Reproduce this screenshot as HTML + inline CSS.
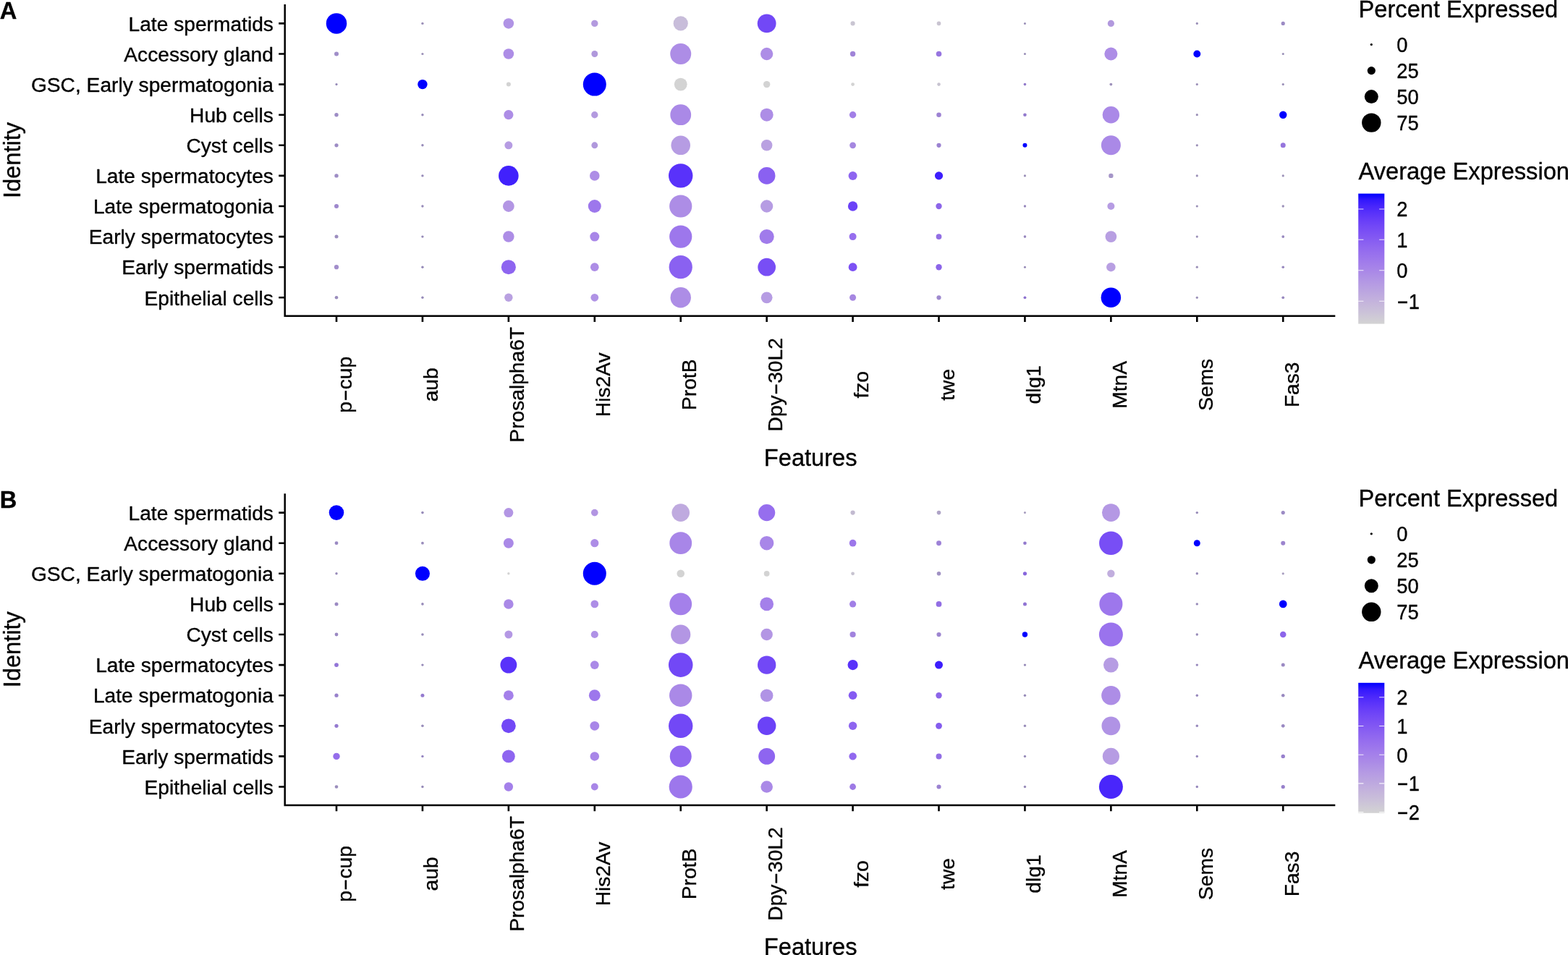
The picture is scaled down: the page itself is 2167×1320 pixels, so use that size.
<!DOCTYPE html>
<html lang="en">
<head>
<meta charset="utf-8">
<title>Dot plot – marker gene expression by cell identity</title>
<style>
html,body{margin:0;padding:0;background:#fff;}
body{width:2167px;height:1320px;overflow:hidden;}
svg{display:block;}
text{font-family:"Liberation Sans", sans-serif;fill:#000;stroke:#000;stroke-width:0.35px;stroke-linejoin:round;}
.t12{font-size:28.0px;}
.t14{font-size:32.67px;}
.tag{font-size:32.67px;font-weight:bold;}
.ax{fill:none;stroke:#000;stroke-width:2.5;stroke-linecap:butt;stroke-linejoin:miter;}
.tk{fill:none;stroke:#000;stroke-width:2.6;}
.cbt{fill:none;stroke:#fff;stroke-width:1.1;stroke-opacity:0.85;}
</style>
</head>
<body>
<svg width="2167" height="1320" viewBox="0 0 2167 1320">
<defs><linearGradient id="cb" x1="0" y1="0" x2="0" y2="1"><stop offset="0" stop-color="#0000ff"/><stop offset="0.05" stop-color="#3318fd"/><stop offset="0.1" stop-color="#4926fb"/><stop offset="0.15" stop-color="#5932fa"/><stop offset="0.2" stop-color="#673df8"/><stop offset="0.25" stop-color="#7248f6"/><stop offset="0.3" stop-color="#7c51f4"/><stop offset="0.35" stop-color="#855bf2"/><stop offset="0.4" stop-color="#8e65f0"/><stop offset="0.45" stop-color="#966eee"/><stop offset="0.5" stop-color="#9d77ec"/><stop offset="0.55" stop-color="#a480ea"/><stop offset="0.6" stop-color="#aa89e7"/><stop offset="0.65" stop-color="#b093e5"/><stop offset="0.7" stop-color="#b69ce3"/><stop offset="0.75" stop-color="#bba5e0"/><stop offset="0.8" stop-color="#c1aede"/><stop offset="0.85" stop-color="#c6b7db"/><stop offset="0.9" stop-color="#cac0d9"/><stop offset="0.95" stop-color="#cfcad6"/><stop offset="1" stop-color="#d3d3d3"/></linearGradient></defs>
<rect width="2167" height="1320" fill="#fff"/>
<g id="panelA" transform="translate(0,0)">
<text class="tag" transform="translate(-0.2,25.8) scale(0.999,1.02)">A</text>
<path class="ax" d="M393.7,6 V436.7 H1845.3"/>
<path class="tk" d="M385.2,32.4H393.7 M385.2,74.5H393.7 M385.2,116.6H393.7 M385.2,158.7H393.7 M385.2,200.8H393.7 M385.2,242.9H393.7 M385.2,285H393.7 M385.2,327.1H393.7 M385.2,369.2H393.7 M385.2,411.3H393.7 M465,436.7V445 M583.93,436.7V445 M702.86,436.7V445 M821.79,436.7V445 M940.72,436.7V445 M1059.65,436.7V445 M1178.58,436.7V445 M1297.51,436.7V445 M1416.44,436.7V445 M1535.37,436.7V445 M1654.3,436.7V445 M1773.23,436.7V445"/>
<g class="ylab">
<text class="t12" text-anchor="end" transform="translate(377.9,42.6) scale(1.006,1.0)">Late spermatids</text>
<text class="t12" text-anchor="end" transform="translate(377.9,84.7) scale(1.006,1.0)">Accessory gland</text>
<text class="t12" text-anchor="end" transform="translate(377.9,126.8) scale(1.006,1.0)">GSC, Early spermatogonia</text>
<text class="t12" text-anchor="end" transform="translate(377.9,168.9) scale(1.006,1.0)">Hub cells</text>
<text class="t12" text-anchor="end" transform="translate(377.9,211) scale(1.006,1.0)">Cyst cells</text>
<text class="t12" text-anchor="end" transform="translate(377.9,253.1) scale(1.006,1.0)">Late spermatocytes</text>
<text class="t12" text-anchor="end" transform="translate(377.9,295.2) scale(1.006,1.0)">Late spermatogonia</text>
<text class="t12" text-anchor="end" transform="translate(377.9,337.3) scale(1.006,1.0)">Early spermatocytes</text>
<text class="t12" text-anchor="end" transform="translate(377.9,379.4) scale(1.006,1.0)">Early spermatids</text>
<text class="t12" text-anchor="end" transform="translate(377.9,421.5) scale(1.006,1.0)">Epithelial cells</text>
</g>
<g class="xlab">
<text class="t12" text-anchor="middle" transform="translate(486.3,531.8) rotate(-90) scale(1.006,1.0)">p<tspan textLength="16.5" lengthAdjust="spacingAndGlyphs" dy="-1">-</tspan><tspan dy="1">cup</tspan></text>
<text class="t12" text-anchor="middle" transform="translate(605.23,531.8) rotate(-90) scale(1.006,1.0)">aub</text>
<text class="t12" text-anchor="middle" transform="translate(724.16,531.8) rotate(-90) scale(1.006,1.0)">Prosalpha6T</text>
<text class="t12" text-anchor="middle" transform="translate(843.09,531.8) rotate(-90) scale(1.006,1.0)">His2Av</text>
<text class="t12" text-anchor="middle" transform="translate(962.02,531.8) rotate(-90) scale(1.006,1.0)">ProtB</text>
<text class="t12" text-anchor="middle" transform="translate(1080.95,531.8) rotate(-90) scale(1.006,1.0)">Dpy<tspan textLength="16.5" lengthAdjust="spacingAndGlyphs" dy="-1">-</tspan><tspan dy="1">30L2</tspan></text>
<text class="t12" text-anchor="middle" transform="translate(1199.88,531.8) rotate(-90) scale(1.006,1.0)">fzo</text>
<text class="t12" text-anchor="middle" transform="translate(1318.81,531.8) rotate(-90) scale(1.006,1.0)">twe</text>
<text class="t12" text-anchor="middle" transform="translate(1437.74,531.8) rotate(-90) scale(1.006,1.0)">dlg1</text>
<text class="t12" text-anchor="middle" transform="translate(1556.67,531.8) rotate(-90) scale(1.006,1.0)">MtnA</text>
<text class="t12" text-anchor="middle" transform="translate(1675.6,531.8) rotate(-90) scale(1.006,1.0)">Sems</text>
<text class="t12" text-anchor="middle" transform="translate(1794.53,531.8) rotate(-90) scale(1.006,1.0)">Fas3</text>
</g>
<text class="t14" text-anchor="middle" transform="translate(1120.2,643.7) scale(0.999,1.02)">Features</text>
<text class="t14" text-anchor="middle" transform="translate(28.4,221.5) rotate(-90) scale(0.999,1.02)">Identity</text>
<g class="dots">
<circle cx="465" cy="32.4" r="14.25" fill="#0000ff"/>
<circle cx="465" cy="74.5" r="3" fill="#a08ec9"/>
<circle cx="465" cy="116.6" r="1.6" fill="#9589b7"/>
<circle cx="465" cy="158.7" r="2.7" fill="#9d8cc5"/>
<circle cx="465" cy="200.8" r="2.6" fill="#9c8bc4"/>
<circle cx="465" cy="242.9" r="2.7" fill="#9d8cc5"/>
<circle cx="465" cy="285" r="3" fill="#9e88cd"/>
<circle cx="465" cy="327.1" r="2.5" fill="#9c8ebf"/>
<circle cx="465" cy="369.2" r="3.1" fill="#a28ecb"/>
<circle cx="465" cy="411.3" r="2.3" fill="#9a8dbc"/>
<circle cx="583.93" cy="32.4" r="1.7" fill="#9b90b8"/>
<circle cx="583.93" cy="74.5" r="1.6" fill="#9a8fb7"/>
<circle cx="583.93" cy="116.6" r="6.7" fill="#0000ff"/>
<circle cx="583.93" cy="158.7" r="1.7" fill="#968ab8"/>
<circle cx="583.93" cy="200.8" r="1.7" fill="#968ab8"/>
<circle cx="583.93" cy="242.9" r="1.7" fill="#968ab8"/>
<circle cx="583.93" cy="285" r="1.7" fill="#968ab8"/>
<circle cx="583.93" cy="327.1" r="1.7" fill="#968ab8"/>
<circle cx="583.93" cy="369.2" r="1.7" fill="#968ab8"/>
<circle cx="583.93" cy="411.3" r="1.7" fill="#968ab8"/>
<circle cx="702.86" cy="32.4" r="7.25" fill="#b093e5"/>
<circle cx="702.86" cy="74.5" r="7.3" fill="#ad8de6"/>
<circle cx="702.86" cy="116.6" r="3" fill="#d3d3d3"/>
<circle cx="702.86" cy="158.7" r="6.6" fill="#ad8de6"/>
<circle cx="702.86" cy="200.8" r="5.5" fill="#b69ce3"/>
<circle cx="702.86" cy="242.9" r="13.8" fill="#4121fc"/>
<circle cx="702.86" cy="285" r="7.9" fill="#b396e4"/>
<circle cx="702.86" cy="327.1" r="7.75" fill="#ad8de6"/>
<circle cx="702.86" cy="369.2" r="10.05" fill="#8e65f0"/>
<circle cx="702.86" cy="411.3" r="5.7" fill="#b9a1e1"/>
<circle cx="821.79" cy="32.4" r="4.7" fill="#b39adf"/>
<circle cx="821.79" cy="74.5" r="4.45" fill="#b098dc"/>
<circle cx="821.79" cy="116.6" r="16" fill="#0000ff"/>
<circle cx="821.79" cy="158.7" r="4.7" fill="#b39adf"/>
<circle cx="821.79" cy="200.8" r="4.45" fill="#b098dc"/>
<circle cx="821.79" cy="242.9" r="6.8" fill="#ad8de6"/>
<circle cx="821.79" cy="285" r="9" fill="#9d77ec"/>
<circle cx="821.79" cy="327.1" r="6.5" fill="#a886e8"/>
<circle cx="821.79" cy="369.2" r="5.85" fill="#ad8de6"/>
<circle cx="821.79" cy="411.3" r="5.4" fill="#b093e5"/>
<circle cx="940.72" cy="32.4" r="10.1" fill="#c8bdda"/>
<circle cx="940.72" cy="74.5" r="14.5" fill="#ad8de6"/>
<circle cx="940.72" cy="116.6" r="8.9" fill="#d3d3d3"/>
<circle cx="940.72" cy="158.7" r="14.4" fill="#aa89e7"/>
<circle cx="940.72" cy="200.8" r="13.3" fill="#b69ce3"/>
<circle cx="940.72" cy="242.9" r="16.7" fill="#5932fa"/>
<circle cx="940.72" cy="285" r="15.6" fill="#ad8de6"/>
<circle cx="940.72" cy="327.1" r="15.6" fill="#9d77ec"/>
<circle cx="940.72" cy="369.2" r="16.1" fill="#8a61f1"/>
<circle cx="940.72" cy="411.3" r="14.2" fill="#ad8de6"/>
<circle cx="1059.65" cy="32.4" r="12.9" fill="#7248f6"/>
<circle cx="1059.65" cy="74.5" r="8.65" fill="#ad8de6"/>
<circle cx="1059.65" cy="116.6" r="4.7" fill="#d3d3d3"/>
<circle cx="1059.65" cy="158.7" r="9.05" fill="#ad8de6"/>
<circle cx="1059.65" cy="200.8" r="7.8" fill="#b9a1e1"/>
<circle cx="1059.65" cy="242.9" r="11.8" fill="#8a61f1"/>
<circle cx="1059.65" cy="285" r="8.65" fill="#b69ce3"/>
<circle cx="1059.65" cy="327.1" r="10.1" fill="#a07beb"/>
<circle cx="1059.65" cy="369.2" r="12.35" fill="#784ef5"/>
<circle cx="1059.65" cy="411.3" r="7.9" fill="#b69ce3"/>
<circle cx="1178.58" cy="32.4" r="3.05" fill="#c9c5d2"/>
<circle cx="1178.58" cy="74.5" r="3.7" fill="#a084d8"/>
<circle cx="1178.58" cy="116.6" r="2.4" fill="#d3d3d3"/>
<circle cx="1178.58" cy="158.7" r="4.7" fill="#a27fe7"/>
<circle cx="1178.58" cy="200.8" r="4.4" fill="#a587e0"/>
<circle cx="1178.58" cy="242.9" r="6" fill="#8e65f0"/>
<circle cx="1178.58" cy="285" r="6.7" fill="#6b42f7"/>
<circle cx="1178.58" cy="327.1" r="5" fill="#966eee"/>
<circle cx="1178.58" cy="369.2" r="5.9" fill="#7c51f4"/>
<circle cx="1178.58" cy="411.3" r="4.5" fill="#a687e1"/>
<circle cx="1297.51" cy="32.4" r="2.8" fill="#c9c4d1"/>
<circle cx="1297.51" cy="74.5" r="3.8" fill="#9775e0"/>
<circle cx="1297.51" cy="116.6" r="2.3" fill="#c7c3d0"/>
<circle cx="1297.51" cy="158.7" r="3.3" fill="#9d82d3"/>
<circle cx="1297.51" cy="200.8" r="3.1" fill="#9b82d1"/>
<circle cx="1297.51" cy="242.9" r="5.6" fill="#3d1efd"/>
<circle cx="1297.51" cy="285" r="4.2" fill="#8c65e9"/>
<circle cx="1297.51" cy="327.1" r="3.9" fill="#926ee4"/>
<circle cx="1297.51" cy="369.2" r="4.2" fill="#8c65e9"/>
<circle cx="1297.51" cy="411.3" r="3.1" fill="#9e89ce"/>
<circle cx="1416.44" cy="32.4" r="1.5" fill="#988eb6"/>
<circle cx="1416.44" cy="74.5" r="1.5" fill="#988eb6"/>
<circle cx="1416.44" cy="116.6" r="1.8" fill="#9179ca"/>
<circle cx="1416.44" cy="158.7" r="2.3" fill="#9279cd"/>
<circle cx="1416.44" cy="200.8" r="3" fill="#0000ff"/>
<circle cx="1416.44" cy="242.9" r="1.6" fill="#9a8fb7"/>
<circle cx="1416.44" cy="285" r="1.7" fill="#9687bc"/>
<circle cx="1416.44" cy="327.1" r="1.8" fill="#9787be"/>
<circle cx="1416.44" cy="369.2" r="1.5" fill="#9488b5"/>
<circle cx="1416.44" cy="411.3" r="1.9" fill="#8e73d0"/>
<circle cx="1535.37" cy="32.4" r="4.6" fill="#b299de"/>
<circle cx="1535.37" cy="74.5" r="9" fill="#ad8de6"/>
<circle cx="1535.37" cy="116.6" r="1.9" fill="#9e92bb"/>
<circle cx="1535.37" cy="158.7" r="11.7" fill="#aa89e7"/>
<circle cx="1535.37" cy="200.8" r="13.5" fill="#aa89e7"/>
<circle cx="1535.37" cy="242.9" r="3.2" fill="#a595c8"/>
<circle cx="1535.37" cy="285" r="5" fill="#b69ce3"/>
<circle cx="1535.37" cy="327.1" r="7.9" fill="#b89fe2"/>
<circle cx="1535.37" cy="369.2" r="6.25" fill="#b89fe2"/>
<circle cx="1535.37" cy="411.3" r="13.75" fill="#0000ff"/>
<circle cx="1654.3" cy="32.4" r="1.6" fill="#9a8fb7"/>
<circle cx="1654.3" cy="74.5" r="4.95" fill="#0000ff"/>
<circle cx="1654.3" cy="116.6" r="1.6" fill="#9a8fb7"/>
<circle cx="1654.3" cy="158.7" r="1.6" fill="#9a8fb7"/>
<circle cx="1654.3" cy="200.8" r="1.6" fill="#9a8fb7"/>
<circle cx="1654.3" cy="242.9" r="1.6" fill="#9a8fb7"/>
<circle cx="1654.3" cy="285" r="1.6" fill="#9a8fb7"/>
<circle cx="1654.3" cy="327.1" r="1.6" fill="#9a8fb7"/>
<circle cx="1654.3" cy="369.2" r="1.6" fill="#9a8fb7"/>
<circle cx="1654.3" cy="411.3" r="1.6" fill="#9a8fb7"/>
<circle cx="1773.23" cy="32.4" r="2.6" fill="#9c8bc4"/>
<circle cx="1773.23" cy="74.5" r="1.5" fill="#988eb6"/>
<circle cx="1773.23" cy="116.6" r="1.6" fill="#9a8fb7"/>
<circle cx="1773.23" cy="158.7" r="5.2" fill="#0000ff"/>
<circle cx="1773.23" cy="200.8" r="3.5" fill="#9575dd"/>
<circle cx="1773.23" cy="242.9" r="1.6" fill="#9a8fb7"/>
<circle cx="1773.23" cy="285" r="1.7" fill="#9b90b8"/>
<circle cx="1773.23" cy="327.1" r="1.9" fill="#9888bf"/>
<circle cx="1773.23" cy="369.2" r="1.8" fill="#9787be"/>
<circle cx="1773.23" cy="411.3" r="1.9" fill="#9888bf"/>
</g>
<text class="t14" transform="translate(1877.6,23.5) scale(0.999,1.02)">Percent Expressed</text>
<circle cx="1895.3" cy="61.6" r="1.6" fill="#000"/>
<text class="t12" transform="translate(1930.2,71.8) scale(0.975,1.035)">0</text>
<circle cx="1895.3" cy="97.6" r="5.6" fill="#000"/>
<text class="t12" transform="translate(1930.2,107.8) scale(0.975,1.035)">25</text>
<circle cx="1895.3" cy="133.6" r="9.5" fill="#000"/>
<text class="t12" transform="translate(1930.2,143.8) scale(0.975,1.035)">50</text>
<circle cx="1895.3" cy="169.6" r="13.2" fill="#000"/>
<text class="t12" transform="translate(1930.2,179.8) scale(0.975,1.035)">75</text>
<text class="t14" transform="translate(1877.6,247.6) scale(0.999,1.02)">Average Expression</text>
<rect x="1877.2" y="267.6" width="36.1" height="180" fill="url(#cb)"/>
<path class="cbt" d="M1877.2,289h7.2M1913.3,289h-7.2 M1877.2,331.3h7.2M1913.3,331.3h-7.2 M1877.2,373.7h7.2M1913.3,373.7h-7.2 M1877.2,416.3h7.2M1913.3,416.3h-7.2"/>
<text class="t12" transform="translate(1930.2,299.2) scale(0.975,1.035)">2</text>
<text class="t12" transform="translate(1930.2,341.5) scale(0.975,1.035)">1</text>
<text class="t12" transform="translate(1930.2,383.9) scale(0.975,1.035)">0</text>
<text class="t12" transform="translate(1930.2,426.5) scale(0.975,1.035)"><tspan textLength="17.03" lengthAdjust="spacingAndGlyphs" dy="-0.97">-</tspan><tspan dy="0.97">1</tspan></text>
</g>
<g id="panelB" transform="translate(0,676.2)">
<text class="tag" transform="translate(-0.2,25.8) scale(0.999,1.02)">B</text>
<path class="ax" d="M393.7,6 V436.7 H1845.3"/>
<path class="tk" d="M385.2,32.4H393.7 M385.2,74.5H393.7 M385.2,116.6H393.7 M385.2,158.7H393.7 M385.2,200.8H393.7 M385.2,242.9H393.7 M385.2,285H393.7 M385.2,327.1H393.7 M385.2,369.2H393.7 M385.2,411.3H393.7 M465,436.7V445 M583.93,436.7V445 M702.86,436.7V445 M821.79,436.7V445 M940.72,436.7V445 M1059.65,436.7V445 M1178.58,436.7V445 M1297.51,436.7V445 M1416.44,436.7V445 M1535.37,436.7V445 M1654.3,436.7V445 M1773.23,436.7V445"/>
<g class="ylab">
<text class="t12" text-anchor="end" transform="translate(377.9,42.6) scale(1.006,1.0)">Late spermatids</text>
<text class="t12" text-anchor="end" transform="translate(377.9,84.7) scale(1.006,1.0)">Accessory gland</text>
<text class="t12" text-anchor="end" transform="translate(377.9,126.8) scale(1.006,1.0)">GSC, Early spermatogonia</text>
<text class="t12" text-anchor="end" transform="translate(377.9,168.9) scale(1.006,1.0)">Hub cells</text>
<text class="t12" text-anchor="end" transform="translate(377.9,211) scale(1.006,1.0)">Cyst cells</text>
<text class="t12" text-anchor="end" transform="translate(377.9,253.1) scale(1.006,1.0)">Late spermatocytes</text>
<text class="t12" text-anchor="end" transform="translate(377.9,295.2) scale(1.006,1.0)">Late spermatogonia</text>
<text class="t12" text-anchor="end" transform="translate(377.9,337.3) scale(1.006,1.0)">Early spermatocytes</text>
<text class="t12" text-anchor="end" transform="translate(377.9,379.4) scale(1.006,1.0)">Early spermatids</text>
<text class="t12" text-anchor="end" transform="translate(377.9,421.5) scale(1.006,1.0)">Epithelial cells</text>
</g>
<g class="xlab">
<text class="t12" text-anchor="middle" transform="translate(486.3,531.8) rotate(-90) scale(1.006,1.0)">p<tspan textLength="16.5" lengthAdjust="spacingAndGlyphs" dy="-1">-</tspan><tspan dy="1">cup</tspan></text>
<text class="t12" text-anchor="middle" transform="translate(605.23,531.8) rotate(-90) scale(1.006,1.0)">aub</text>
<text class="t12" text-anchor="middle" transform="translate(724.16,531.8) rotate(-90) scale(1.006,1.0)">Prosalpha6T</text>
<text class="t12" text-anchor="middle" transform="translate(843.09,531.8) rotate(-90) scale(1.006,1.0)">His2Av</text>
<text class="t12" text-anchor="middle" transform="translate(962.02,531.8) rotate(-90) scale(1.006,1.0)">ProtB</text>
<text class="t12" text-anchor="middle" transform="translate(1080.95,531.8) rotate(-90) scale(1.006,1.0)">Dpy<tspan textLength="16.5" lengthAdjust="spacingAndGlyphs" dy="-1">-</tspan><tspan dy="1">30L2</tspan></text>
<text class="t12" text-anchor="middle" transform="translate(1199.88,531.8) rotate(-90) scale(1.006,1.0)">fzo</text>
<text class="t12" text-anchor="middle" transform="translate(1318.81,531.8) rotate(-90) scale(1.006,1.0)">twe</text>
<text class="t12" text-anchor="middle" transform="translate(1437.74,531.8) rotate(-90) scale(1.006,1.0)">dlg1</text>
<text class="t12" text-anchor="middle" transform="translate(1556.67,531.8) rotate(-90) scale(1.006,1.0)">MtnA</text>
<text class="t12" text-anchor="middle" transform="translate(1675.6,531.8) rotate(-90) scale(1.006,1.0)">Sems</text>
<text class="t12" text-anchor="middle" transform="translate(1794.53,531.8) rotate(-90) scale(1.006,1.0)">Fas3</text>
</g>
<text class="t14" text-anchor="middle" transform="translate(1120.2,643.7) scale(0.999,1.02)">Features</text>
<text class="t14" text-anchor="middle" transform="translate(28.4,221.5) rotate(-90) scale(0.999,1.02)">Identity</text>
<g class="dots">
<circle cx="465" cy="32.4" r="10.3" fill="#0000ff"/>
<circle cx="465" cy="74.5" r="2.4" fill="#9a89c2"/>
<circle cx="465" cy="116.6" r="1.7" fill="#968ab8"/>
<circle cx="465" cy="158.7" r="2.5" fill="#9b8ac3"/>
<circle cx="465" cy="200.8" r="2.4" fill="#9a89c2"/>
<circle cx="465" cy="242.9" r="2.9" fill="#9274d7"/>
<circle cx="465" cy="285" r="2.6" fill="#9780cb"/>
<circle cx="465" cy="327.1" r="2.6" fill="#947ad0"/>
<circle cx="465" cy="369.2" r="4.7" fill="#956eeb"/>
<circle cx="465" cy="411.3" r="2.3" fill="#9a8dbc"/>
<circle cx="583.93" cy="32.4" r="1.8" fill="#978bb9"/>
<circle cx="583.93" cy="74.5" r="1.9" fill="#998cbb"/>
<circle cx="583.93" cy="116.6" r="10.05" fill="#0000ff"/>
<circle cx="583.93" cy="158.7" r="1.8" fill="#978bb9"/>
<circle cx="583.93" cy="200.8" r="1.8" fill="#978bb9"/>
<circle cx="583.93" cy="242.9" r="1.7" fill="#968ab8"/>
<circle cx="583.93" cy="285" r="2.5" fill="#947acf"/>
<circle cx="583.93" cy="327.1" r="1.8" fill="#978bb9"/>
<circle cx="583.93" cy="369.2" r="1.7" fill="#9483c0"/>
<circle cx="583.93" cy="411.3" r="1.7" fill="#968ab8"/>
<circle cx="702.86" cy="32.4" r="6.5" fill="#b396e4"/>
<circle cx="702.86" cy="74.5" r="7" fill="#aa89e7"/>
<circle cx="702.86" cy="116.6" r="1.7" fill="#d3d3d3"/>
<circle cx="702.86" cy="158.7" r="6.75" fill="#aa89e7"/>
<circle cx="702.86" cy="200.8" r="5.5" fill="#b498e4"/>
<circle cx="702.86" cy="242.9" r="11.45" fill="#5932fa"/>
<circle cx="702.86" cy="285" r="6.9" fill="#a480ea"/>
<circle cx="702.86" cy="327.1" r="9.9" fill="#7248f6"/>
<circle cx="702.86" cy="369.2" r="8.9" fill="#8e65f0"/>
<circle cx="702.86" cy="411.3" r="6.2" fill="#a480ea"/>
<circle cx="821.79" cy="32.4" r="4.85" fill="#b295e2"/>
<circle cx="821.79" cy="74.5" r="5.6" fill="#ad8de6"/>
<circle cx="821.79" cy="116.6" r="16" fill="#0000ff"/>
<circle cx="821.79" cy="158.7" r="5.35" fill="#ad8de6"/>
<circle cx="821.79" cy="200.8" r="5.1" fill="#af91e6"/>
<circle cx="821.79" cy="242.9" r="5.9" fill="#aa89e7"/>
<circle cx="821.79" cy="285" r="7.9" fill="#9d77ec"/>
<circle cx="821.79" cy="327.1" r="6.4" fill="#a886e8"/>
<circle cx="821.79" cy="369.2" r="6.25" fill="#a886e8"/>
<circle cx="821.79" cy="411.3" r="4.95" fill="#a886e7"/>
<circle cx="940.72" cy="32.4" r="12.3" fill="#bfaadf"/>
<circle cx="940.72" cy="74.5" r="15.4" fill="#a886e8"/>
<circle cx="940.72" cy="116.6" r="5.3" fill="#d3d3d3"/>
<circle cx="940.72" cy="158.7" r="15.4" fill="#a480ea"/>
<circle cx="940.72" cy="200.8" r="13.6" fill="#b396e4"/>
<circle cx="940.72" cy="242.9" r="16.8" fill="#7248f6"/>
<circle cx="940.72" cy="285" r="15.7" fill="#aa89e7"/>
<circle cx="940.72" cy="327.1" r="16.7" fill="#7248f6"/>
<circle cx="940.72" cy="369.2" r="15" fill="#9168ef"/>
<circle cx="940.72" cy="411.3" r="16.05" fill="#9d77ec"/>
<circle cx="1059.65" cy="32.4" r="11.6" fill="#966eee"/>
<circle cx="1059.65" cy="74.5" r="9.7" fill="#a886e8"/>
<circle cx="1059.65" cy="116.6" r="3.9" fill="#d3d3d3"/>
<circle cx="1059.65" cy="158.7" r="9.4" fill="#a480ea"/>
<circle cx="1059.65" cy="200.8" r="8.25" fill="#b396e4"/>
<circle cx="1059.65" cy="242.9" r="12.7" fill="#7248f6"/>
<circle cx="1059.65" cy="285" r="8.8" fill="#b093e5"/>
<circle cx="1059.65" cy="327.1" r="12.75" fill="#6b42f7"/>
<circle cx="1059.65" cy="369.2" r="11.45" fill="#8e65f0"/>
<circle cx="1059.65" cy="411.3" r="8.3" fill="#aa89e7"/>
<circle cx="1178.58" cy="32.4" r="3.1" fill="#c2bad0"/>
<circle cx="1178.58" cy="74.5" r="4.85" fill="#9c77ea"/>
<circle cx="1178.58" cy="116.6" r="2.4" fill="#c7c3d0"/>
<circle cx="1178.58" cy="158.7" r="4.6" fill="#a17fe6"/>
<circle cx="1178.58" cy="200.8" r="4.1" fill="#a183de"/>
<circle cx="1178.58" cy="242.9" r="7.1" fill="#5932fa"/>
<circle cx="1178.58" cy="285" r="5.85" fill="#855bf2"/>
<circle cx="1178.58" cy="327.1" r="5.7" fill="#8e65f0"/>
<circle cx="1178.58" cy="369.2" r="5.2" fill="#9168ef"/>
<circle cx="1178.58" cy="411.3" r="4.4" fill="#9d7ae5"/>
<circle cx="1297.51" cy="32.4" r="2.8" fill="#afa4c7"/>
<circle cx="1297.51" cy="74.5" r="3.45" fill="#9d81d7"/>
<circle cx="1297.51" cy="116.6" r="2.8" fill="#a091c3"/>
<circle cx="1297.51" cy="158.7" r="3.9" fill="#926ee4"/>
<circle cx="1297.51" cy="200.8" r="3.1" fill="#9d85d0"/>
<circle cx="1297.51" cy="242.9" r="5.5" fill="#3d1efd"/>
<circle cx="1297.51" cy="285" r="4.2" fill="#8c65e9"/>
<circle cx="1297.51" cy="327.1" r="4.4" fill="#845cee"/>
<circle cx="1297.51" cy="369.2" r="4" fill="#926ee5"/>
<circle cx="1297.51" cy="411.3" r="3.05" fill="#9b82d1"/>
<circle cx="1416.44" cy="32.4" r="1.5" fill="#a59bbd"/>
<circle cx="1416.44" cy="74.5" r="2.3" fill="#9279cd"/>
<circle cx="1416.44" cy="116.6" r="2.6" fill="#8766dc"/>
<circle cx="1416.44" cy="158.7" r="2.5" fill="#9074d3"/>
<circle cx="1416.44" cy="200.8" r="3.7" fill="#0000ff"/>
<circle cx="1416.44" cy="242.9" r="1.7" fill="#968ab8"/>
<circle cx="1416.44" cy="285" r="1.7" fill="#968ab8"/>
<circle cx="1416.44" cy="327.1" r="1.7" fill="#968ab8"/>
<circle cx="1416.44" cy="369.2" r="1.7" fill="#968ab8"/>
<circle cx="1416.44" cy="411.3" r="1.7" fill="#968ab8"/>
<circle cx="1535.37" cy="32.4" r="12.4" fill="#b498e4"/>
<circle cx="1535.37" cy="74.5" r="16.3" fill="#784ef5"/>
<circle cx="1535.37" cy="116.6" r="5.2" fill="#c1aede"/>
<circle cx="1535.37" cy="158.7" r="16.05" fill="#9d77ec"/>
<circle cx="1535.37" cy="200.8" r="16.5" fill="#9a73ed"/>
<circle cx="1535.37" cy="242.9" r="10.4" fill="#b69ce3"/>
<circle cx="1535.37" cy="285" r="13.2" fill="#ad8de6"/>
<circle cx="1535.37" cy="327.1" r="12.9" fill="#b093e5"/>
<circle cx="1535.37" cy="369.2" r="11.6" fill="#b69ce3"/>
<circle cx="1535.37" cy="411.3" r="16.5" fill="#4926fb"/>
<circle cx="1654.3" cy="32.4" r="1.7" fill="#968ab8"/>
<circle cx="1654.3" cy="74.5" r="4.5" fill="#0000ff"/>
<circle cx="1654.3" cy="116.6" r="1.7" fill="#968ab8"/>
<circle cx="1654.3" cy="158.7" r="1.7" fill="#968ab8"/>
<circle cx="1654.3" cy="200.8" r="1.7" fill="#968ab8"/>
<circle cx="1654.3" cy="242.9" r="1.7" fill="#9687bc"/>
<circle cx="1654.3" cy="285" r="1.7" fill="#9687bc"/>
<circle cx="1654.3" cy="327.1" r="1.7" fill="#9687bc"/>
<circle cx="1654.3" cy="369.2" r="1.7" fill="#9687bc"/>
<circle cx="1654.3" cy="411.3" r="1.7" fill="#9687bc"/>
<circle cx="1773.23" cy="32.4" r="2.6" fill="#9c8bc4"/>
<circle cx="1773.23" cy="74.5" r="3" fill="#9c84ce"/>
<circle cx="1773.23" cy="116.6" r="1.6" fill="#a69cbe"/>
<circle cx="1773.23" cy="158.7" r="5.35" fill="#0000ff"/>
<circle cx="1773.23" cy="200.8" r="4.3" fill="#8c65ea"/>
<circle cx="1773.23" cy="242.9" r="2.5" fill="#9b8ac3"/>
<circle cx="1773.23" cy="285" r="2.3" fill="#9989c0"/>
<circle cx="1773.23" cy="327.1" r="2.4" fill="#9a89c2"/>
<circle cx="1773.23" cy="369.2" r="2.7" fill="#9880cd"/>
<circle cx="1773.23" cy="411.3" r="2.6" fill="#9780cb"/>
</g>
<text class="t14" transform="translate(1877.6,23.5) scale(0.999,1.02)">Percent Expressed</text>
<circle cx="1895.3" cy="61.6" r="1.6" fill="#000"/>
<text class="t12" transform="translate(1930.2,71.8) scale(0.975,1.035)">0</text>
<circle cx="1895.3" cy="97.6" r="5.6" fill="#000"/>
<text class="t12" transform="translate(1930.2,107.8) scale(0.975,1.035)">25</text>
<circle cx="1895.3" cy="133.6" r="9.5" fill="#000"/>
<text class="t12" transform="translate(1930.2,143.8) scale(0.975,1.035)">50</text>
<circle cx="1895.3" cy="169.6" r="13.2" fill="#000"/>
<text class="t12" transform="translate(1930.2,179.8) scale(0.975,1.035)">75</text>
<text class="t14" transform="translate(1877.6,247.6) scale(0.999,1.02)">Average Expression</text>
<rect x="1877.2" y="267.6" width="36.1" height="180" fill="url(#cb)"/>
<path class="cbt" d="M1877.2,287.5h7.2M1913.3,287.5h-7.2 M1877.2,327.3h7.2M1913.3,327.3h-7.2 M1877.2,367.1h7.2M1913.3,367.1h-7.2 M1877.2,406.7h7.2M1913.3,406.7h-7.2 M1877.2,446.4h7.2M1913.3,446.4h-7.2"/>
<text class="t12" transform="translate(1930.2,297.7) scale(0.975,1.035)">2</text>
<text class="t12" transform="translate(1930.2,337.5) scale(0.975,1.035)">1</text>
<text class="t12" transform="translate(1930.2,377.3) scale(0.975,1.035)">0</text>
<text class="t12" transform="translate(1930.2,416.9) scale(0.975,1.035)"><tspan textLength="17.03" lengthAdjust="spacingAndGlyphs" dy="-0.97">-</tspan><tspan dy="0.97">1</tspan></text>
<text class="t12" transform="translate(1930.2,456.6) scale(0.975,1.035)"><tspan textLength="17.03" lengthAdjust="spacingAndGlyphs" dy="-0.97">-</tspan><tspan dy="0.97">2</tspan></text>
</g>
</svg>
</body>
</html>
